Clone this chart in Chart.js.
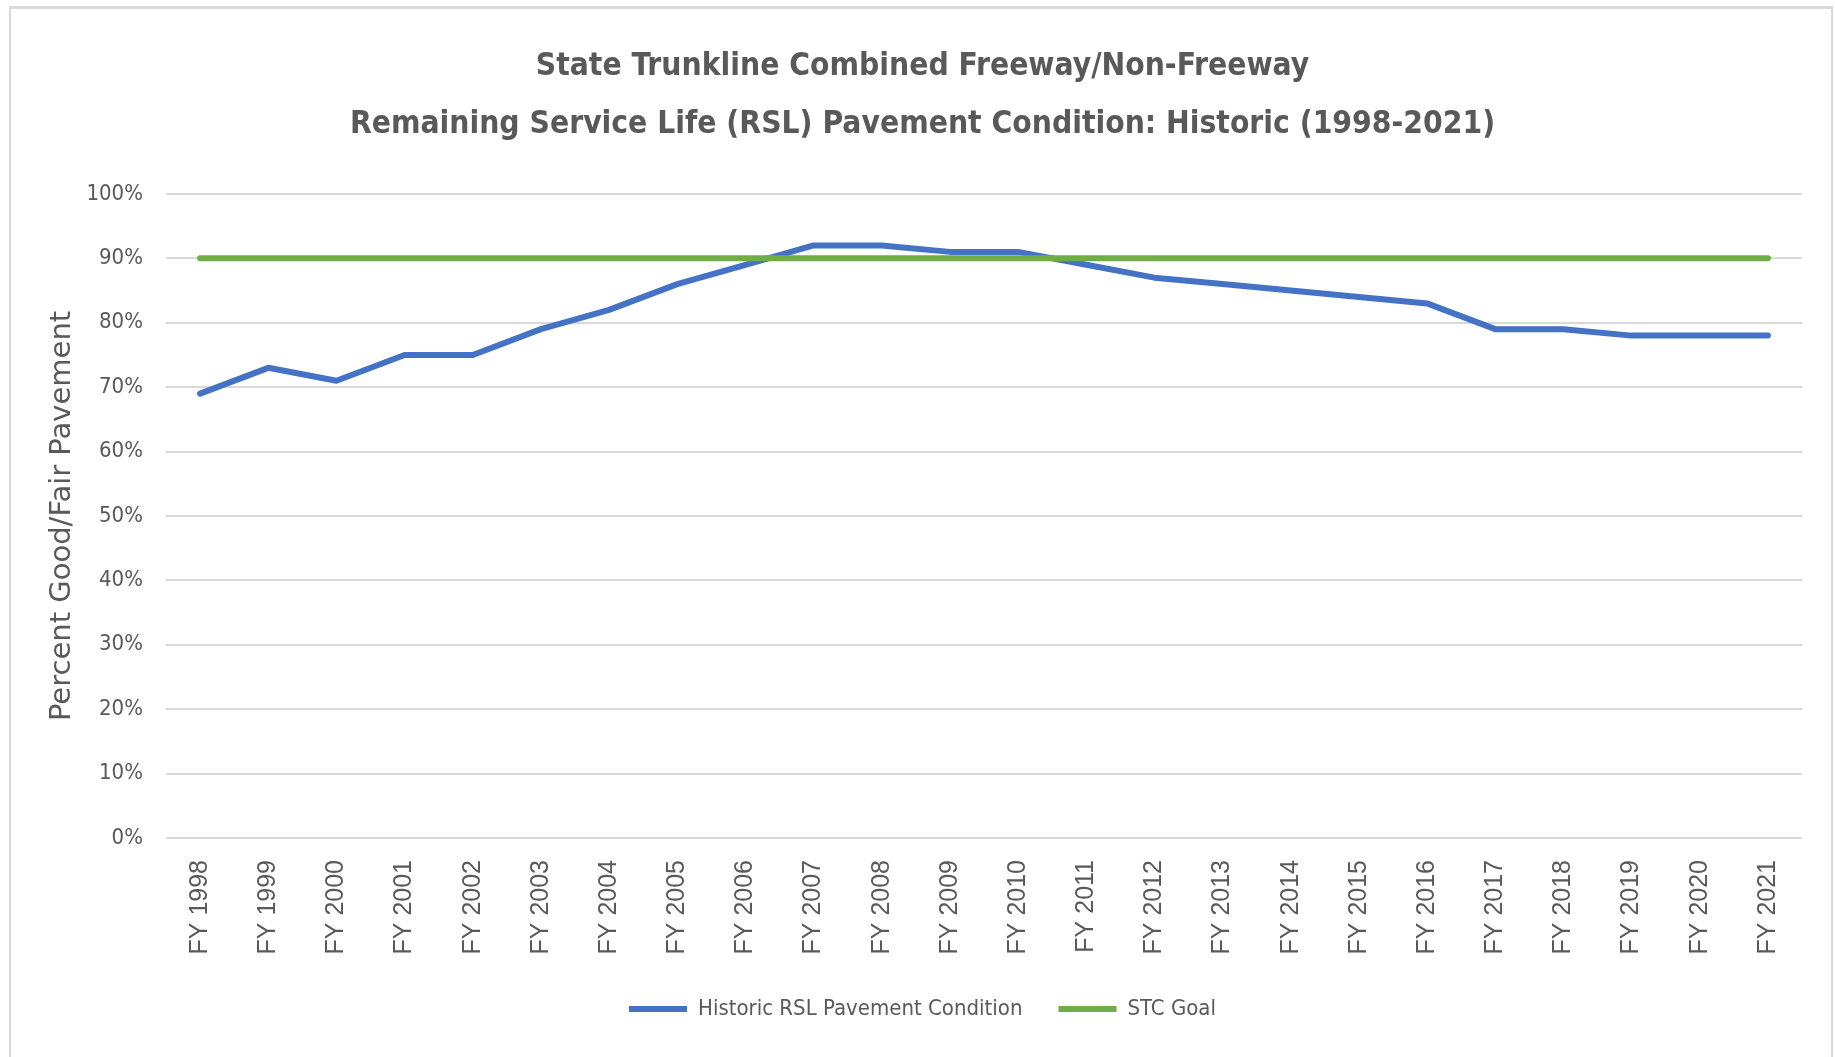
<!DOCTYPE html>
<html>
<head>
<meta charset="utf-8">
<script src="https://cdn.jsdelivr.net/npm/chart.js@4.4.1/dist/chart.umd.min.js"></script>
<style>
html,body{margin:0;padding:0;background:#fff;}
#wrap{position:relative;width:1835px;height:1057px;overflow:hidden;}
#frame{position:absolute;left:9px;top:6px;width:1820px;height:1100px;border-left:2px solid #d9d9d9;border-right:2px solid #d9d9d9;border-top:3px solid #d9d9d9;pointer-events:none;}
</style>
</head>
<body>
<div id="wrap"><canvas id="chart" width="1835" height="1057"></canvas><div id="frame"></div></div>
<script>
// data
const fiscalYears=["FY 1998","FY 1999","FY 2000","FY 2001","FY 2002","FY 2003","FY 2004","FY 2005","FY 2006","FY 2007","FY 2008","FY 2009",
  "FY 2010","FY 2011","FY 2012","FY 2013","FY 2014","FY 2015","FY 2016","FY 2017","FY 2018","FY 2019","FY 2020","FY 2021"];
const rslCondition=[69,73,71,75,75,79,82,86,89,92,92,91,91,89,87,86,85,84,83,79,79,78,78,78];
const stcGoal=[90,90,90,90,90,90,90,90,90,90,90,90,90,90,90,90,90,90,90,90,90,90,90,90];
const titleLines=["State Trunkline Combined Freeway/Non-Freeway","Remaining Service Life (RSL) Pavement Condition: Historic (1998-2021)"];

const grey="#595959";
const narrow="'Liberation Sans Narrow','DejaVu Sans Condensed','Liberation Sans',sans-serif";

new Chart(document.getElementById("chart"),{
  type:"line",
  data:{
    labels:fiscalYears,
    datasets:[
      {label:"Historic RSL Pavement Condition",data:rslCondition,borderColor:"#4472C4",backgroundColor:"#4472C4",
        borderWidth:6,pointRadius:0,tension:0,borderCapStyle:"round",borderJoinStyle:"round",order:2},
      {label:"STC Goal",data:stcGoal,borderColor:"#70AD47",backgroundColor:"#70AD47",
        borderWidth:6,pointRadius:0,tension:0,borderCapStyle:"round",borderJoinStyle:"round",order:1}
    ]
  },
  options:{
    responsive:false,animation:false,devicePixelRatio:1,
    layout:{padding:{left:43,right:33,top:0,bottom:27}},
    plugins:{
      title:{display:true,text:titleLines,color:grey,
        font:{family:narrow,size:31.5,weight:"bold",lineHeight:1.84},padding:{top:38,bottom:40}},
      legend:{position:"bottom",
        labels:{usePointStyle:true,pointStyle:"line",pointStyleWidth:58,padding:36,color:grey,
          font:{family:narrow,size:22},sort:(a,b)=>a.datasetIndex-b.datasetIndex}},
      tooltip:{enabled:false}
    },
    scales:{
      x:{offset:true,
        grid:{display:false,drawTicks:false},border:{display:false},
        ticks:{minRotation:90,maxRotation:90,padding:22,color:grey,autoSkip:false,
          font:{family:"'Liberation Sans',Arial,sans-serif",size:25}},
        afterFit:s=>{s.height=124;}},
      y:{min:0,max:100,
        grid:{color:"#d9d9d9",lineWidth:2,drawTicks:false},border:{display:false},
        ticks:{stepSize:10,padding:23,color:grey,font:{family:narrow,size:22},callback:v=>v+"%"},
        title:{display:true,text:"Percent Good/Fair Pavement",color:grey,padding:{top:2,bottom:0},
          font:{family:"'DejaVu Sans',sans-serif",size:29}},
        afterFit:s=>{s.width=123;}}
    }
  }
});
</script>
</body>
</html>
